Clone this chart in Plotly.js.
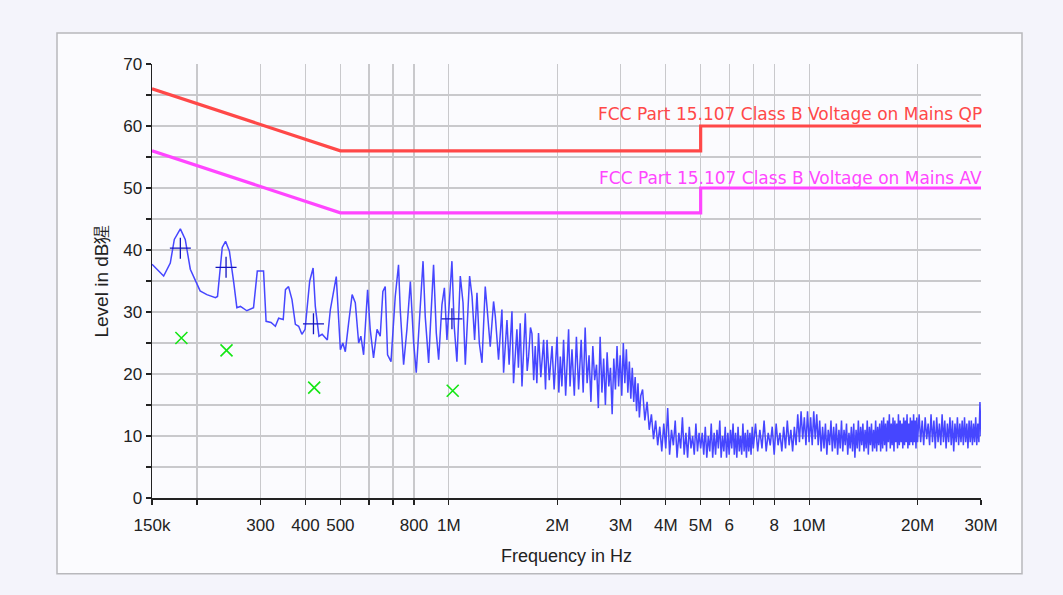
<!DOCTYPE html>
<html>
<head>
<meta charset="utf-8">
<script src="https://cdn.plot.ly/plotly-3.0.1.min.js"></script>
<style>
html,body{margin:0;padding:0;background:#f4f4fb;}
#chart{width:1063px;height:595px;}
</style>
</head>
<body>
<div id="chart"></div>
<script>
// ---- Data (frequency in MHz, level in dBµV) ----
const specLowFreq = [0.150,0.1616,0.1686,0.173,0.1798,0.1855,0.1916,0.1977,0.204,0.213,0.225,0.228,0.235,0.240,0.246,0.253,0.258,0.264,0.275,0.287,0.294,0.306,0.311,0.321,0.330,0.337,0.347,0.352,0.359,0.367,0.375,0.383,0.391,0.399,0.411,0.420,0.426,0.436,0.445,0.460];
const specLowLevel = [37.7,35.8,37.9,41.7,43.4,41.7,36.9,35.2,33.4,32.8,32.3,32.5,40.4,41.4,39.8,34.7,30.7,30.9,30.2,30.7,36.6,36.6,28.5,28.3,27.7,29.0,28.8,33.6,34.1,32.0,28.0,27.7,26.4,27.2,35.0,37.1,30.9,26.1,26.4,25.5];

const specMidFreq = [0.469,0.487,0.494,0.500,0.508,0.516,0.527,0.539,0.550,0.562,0.570,0.580,0.595,0.605,0.618,0.632,0.645,0.656,0.666,0.676,0.691,0.710,0.725,0.733,0.749,0.765,0.782,0.798,0.812,0.830,0.848,0.860,0.879,0.888,0.907,0.923,0.937,0.957,0.972,0.988,1.005,1.020,1.035,1.053,1.076,1.095,1.111,1.142,1.160,1.179,1.197,1.215,1.236,1.262,1.276,1.303,1.331,1.346,1.374,1.404,1.419,1.450,1.470,1.497,1.512,1.545,1.560,1.578,1.596,1.630,1.650,1.665,1.685,1.701,1.720,1.737,1.755,1.774,1.800,1.833,1.855,1.873,1.900,1.934,1.960,1.997,2.020,2.039,2.060,2.082,2.110,2.150,2.170,2.197,2.230,2.260,2.292];
const specMidLevel = [30.4,35.7,29.8,23.9,25.0,23.6,28.2,32.8,31.5,25.0,26.1,23.1,33.6,27.2,22.6,27.2,26.1,33.3,34.1,23.1,22.0,32.5,37.6,30.4,21.5,27.2,34.9,25.3,20.2,29.8,38.2,29.3,21.8,27.2,37.6,26.6,22.3,31.2,33.9,25.5,32.0,38.2,27.7,22.0,35.8,31.5,21.5,35.8,32.5,25.5,33.1,25.0,21.8,34.1,30.9,24.4,31.7,29.3,22.3,30.4,20.2,28.7,21.5,30.1,18.5,27.2,21.0,28.2,18.0,29.8,20.5,22.8,27.5,26.5,19.0,24.5,18.5,26.6,19.5,25.5,17.5,25.5,19.0,24.5,17.5,26.0,17.0,22.8,18.0,25.5,16.5,27.2,18.0,24.0,16.5,26.0,17.5];

const specBandFreq = [2.33,2.36,2.39,2.42,2.45,2.48,2.51,2.54,2.57,2.60,2.63,2.66,2.69,2.72,2.75,2.78,2.81,2.84,2.87,2.90,2.93,2.96,2.99,3.02,3.05,3.08,3.11,3.14,3.17,3.20,3.23,3.26,3.29,3.32,3.35,3.38,3.41,
3.45,3.50,3.55,3.60,3.65,3.70,3.75,3.80,3.85,3.90,3.95,4.00,4.05,4.10,4.15,4.20,4.25,4.30,4.35,4.40,4.45,4.50,4.55,4.60,4.65,4.70,4.75,4.80,4.85,4.90,4.95,5.00];
const specBandLevel = [25.5,17.0,27.5,18.5,23.0,15.5,24.5,19.0,21.5,14.5,26.0,17.0,22.5,15.0,23.5,18.0,21.0,13.5,22.5,17.5,24.5,18.0,23.0,16.5,25.0,18.5,24.0,17.0,22.0,16.0,21.0,15.5,19.5,14.0,18.5,13.0,16.5,
17.5,12.5,15.5,11.0,13.5,9.5,12.5,8.5,11.5,7.5,12.0,8.0,14.5,7.0,11.0,8.5,12.5,6.5,10.5,8.0,13.0,7.0,10.5,6.5,11.5,8.0,10.0,7.0,12.0,7.5,10.5,8.0];

const spec5to7Freq = [5.05,5.10,5.15,5.20,5.25,5.30,5.35,5.40,5.45,5.50,5.55,5.60,5.65,5.70,5.75,5.80,5.85,5.90,5.95,6.00,6.05,6.10,6.15,6.20,6.25,6.30,6.35,6.40,6.45,6.50,6.55,6.60,6.65,6.70,6.75,6.80,6.85,6.90,6.95,7.00];
const spec5to7Level = [10.5,7.0,11.5,6.5,10.0,7.5,12.0,6.5,10.5,7.0,11.0,8.0,12.5,6.5,10.0,7.5,11.5,6.5,10.5,7.0,11.0,8.0,12.0,7.0,10.5,6.5,11.5,7.5,10.0,7.0,12.0,7.5,10.5,6.5,11.0,7.5,10.5,7.0,11.5,8.0];

const spec7to10Freq = [7.1,7.2,7.3,7.4,7.5,7.6,7.7,7.8,7.9,8.0,8.1,8.2,8.3,8.4,8.5,8.6,8.7,8.8,8.9,9.0,9.1,9.2,9.3,9.4,9.5,9.6,9.7,9.8,9.9,10.0];
const spec7to10Level = [12.0,7.5,11.0,8.0,12.5,7.5,10.5,8.5,11.5,7.0,12.0,8.5,10.5,7.5,11.5,8.0,12.5,8.5,11.0,7.5,11.5,8.5,13.5,9.0,14.0,9.5,13.0,8.5,14.0,9.0];

const spec10to20Freq = [10.1,10.2,10.3,10.4,10.5,10.6,10.7,10.8,10.9,11.0,11.1,11.2,11.3,11.4,11.5,11.6,11.7,11.8,11.9,12.0,12.1,12.2,12.3,12.4,12.5,12.6,12.7,12.8,12.9,13.0,13.1,13.2,13.3,13.4,13.5,13.6,13.7,13.8,13.9,14.0,14.1,14.2,14.3,14.4,14.5,14.6,14.7,14.8,14.9,15.0,15.1,15.2,15.3,15.4,15.5,15.6,15.7,15.8,15.9,16.0,16.1,16.2,16.3,16.4,16.5,16.6,16.7,16.8,16.9,17.0,17.1,17.2,17.3,17.4,17.5,17.6,17.7,17.8,17.9,18.0,18.1,18.2,18.3,18.4,18.5,18.6,18.7,18.8,18.9,19.0,19.1,19.2,19.3,19.4,19.5,19.6,19.7,19.8,19.9,20.0];
const spec10to20Level = [13.0,8.5,14.0,9.5,13.5,8.5,12.5,7.5,11.5,8.0,12.0,7.0,11.0,8.5,12.5,7.5,11.5,8.0,12.0,7.0,11.0,8.0,12.5,7.5,11.0,8.5,12.0,7.0,10.5,8.0,11.5,7.5,12.0,6.5,11.0,8.0,12.5,7.5,11.5,8.5,12.0,7.5,11.0,8.0,12.5,7.0,11.5,8.5,12.0,7.5,11.0,8.0,12.5,7.5,11.5,8.5,12.0,7.5,12.5,8.0,13.0,8.5,12.0,7.5,12.5,9.0,13.5,8.0,12.0,8.5,13.0,7.5,12.5,9.0,12.0,8.0,13.5,8.5,12.5,9.0,12.0,8.0,13.0,8.5,12.5,9.0,13.5,8.0,12.0,8.5,13.0,9.0,12.5,8.5,13.5,9.0,12.5,8.0,13.0,9.0];

const spec20to30Freq = [20.2,20.4,20.6,20.8,21.0,21.2,21.4,21.6,21.8,22.0,22.2,22.4,22.6,22.8,23.0,23.2,23.4,23.6,23.8,24.0,24.2,24.4,24.6,24.8,25.0,25.2,25.4,25.6,25.8,26.0,26.2,26.4,26.6,26.8,27.0,27.2,27.4,27.6,27.8,28.0,28.2,28.4,28.6,28.8,29.0,29.2,29.4,29.6,29.8,30.0];
const spec20to30Level = [13.5,9.0,12.5,8.5,13.0,9.5,12.0,8.5,13.5,9.0,12.5,8.0,13.0,9.0,12.0,8.5,13.5,9.0,12.5,8.0,12.0,9.0,13.0,8.5,12.5,7.5,12.0,9.0,13.0,8.5,12.0,9.0,12.5,8.5,13.0,9.0,12.0,8.0,12.5,9.0,12.5,8.5,12.0,9.0,13.0,8.5,12.0,9.0,15.5,10.0];

const qpLimitFreq = [0.15, 0.5, 5, 5, 30];
const qpLimitLevel = [66, 56, 56, 60, 60];
const avLimitFreq = [0.15, 0.5, 5, 5, 30];
const avLimitLevel = [56, 46, 46, 50, 50];

const qpMarkFreq = [0.1798, 0.2408, 0.421, 1.020];
const qpMarkLevel = [40.3, 37.2, 28.1, 28.9];
const avMarkFreq = [0.1810, 0.2415, 0.423, 1.025];
const avMarkLevel = [25.8, 23.8, 17.8, 17.3];

const xTickVals = [0.15,0.2,0.3,0.4,0.5,0.6,0.7,0.8,1,2,3,4,5,6,7,8,10,20,30];
const xTickText = ['150k','','300','400','500','','','800','1M','2M','3M','4M','5M','6','','8','10M','20M','30M'];
const yTickVals = [0,5,10,15,20,25,30,35,40,45,50,55,60,65,70];
const yTickText = ['0','','10','','20','','30','','40','','50','','60','','70'];

const qpLabel = 'FCC Part 15.107 Class B Voltage on Mains QP';
const avLabel = 'FCC Part 15.107 Class B Voltage on Mains AV';

// ---- Build ----
const specFreq = specLowFreq.concat(specMidFreq, specBandFreq, spec5to7Freq, spec7to10Freq, spec10to20Freq, spec20to30Freq);
const specLevel = specLowLevel.concat(specMidLevel, specBandLevel, spec5to7Level, spec7to10Level, spec10to20Level, spec20to30Level);

const qpColor = 'rgb(255,72,72)';
const avColor = 'rgb(255,70,255)';

const traces = [
  {x: specFreq, y: specLevel, mode: 'lines', line: {color: 'rgb(70,70,255)', width: 1.5}, hoverinfo: 'skip'},
  {x: qpLimitFreq, y: qpLimitLevel, mode: 'lines', line: {color: qpColor, width: 3.2}},
  {x: avLimitFreq, y: avLimitLevel, mode: 'lines', line: {color: avColor, width: 3.2}},
  {x: qpMarkFreq, y: qpMarkLevel, mode: 'markers', marker: {symbol: 'cross-thin-open', size: 15, color: 'rgb(20,20,190)', line: {color: 'rgb(20,20,190)', width: 1.3}}},
  {x: avMarkFreq, y: avMarkLevel, mode: 'markers', marker: {symbol: 'x-thin-open', size: 12, color: 'rgb(20,230,20)', line: {color: 'rgb(20,230,20)', width: 1.6}}}
];

const L = 152, R = 981, T = 64, B = 498.3;
const pw = R - L, ph = B - T;
function px2paperX(p){ return (p - L) / pw; }
function py2paperY(p){ return (B - p) / ph; }

const tickFont = {family: 'Liberation Sans, Arial, sans-serif', size: 17, color: '#222'};
const titleFont = {family: 'Liberation Sans, Arial, sans-serif', size: 18, color: '#222'};
const yTitleFont = {family: 'Liberation Sans, Arial, sans-serif', size: 19, color: '#222'};

const layout = {
  width: 1063, height: 595,
  margin: {l: L, r: 1063 - R, t: T, b: 595 - B},
  paper_bgcolor: '#f4f4fb',
  plot_bgcolor: 'rgba(0,0,0,0)',
  showlegend: false,
  xaxis: {
    type: 'log',
    range: [Math.log10(0.15), Math.log10(30)],
    tickvals: xTickVals, ticktext: xTickText,
    ticks: 'outside', ticklen: 5, tickcolor: '#222', tickwidth: 1.2,
    ticklabelstandoff: 6,
    showgrid: true, gridcolor: '#c9c9cc', gridwidth: 1.2,
    showline: true, linecolor: '#222', linewidth: 1.5,
    zeroline: false,
    tickfont: tickFont,
    title: {text: 'Frequency in Hz', font: titleFont, standoff: 15},
    automargin: false
  },
  yaxis: {
    range: [0, 70],
    tickvals: yTickVals, ticktext: yTickText,
    ticks: 'outside', ticklen: 5, tickcolor: '#222', tickwidth: 1.2,
    ticklabelstandoff: 0,
    showgrid: true, gridcolor: '#c9c9cc', gridwidth: 1.2,
    showline: true, linecolor: '#222', linewidth: 1.5,
    zeroline: false,
    tickfont: tickFont,
    title: {text: 'Level in dB猩', font: yTitleFont, standoff: 9},
    automargin: false
  },
  shapes: [
    {type: 'rect', xref: 'paper', yref: 'paper', layer: 'below',
     x0: px2paperX(57), x1: px2paperX(1022), y0: py2paperY(574), y1: py2paperY(33),
     fillcolor: '#fbfbfe', line: {color: '#b8b8bc', width: 1.5}}
  ],
  annotations: [
    {xref: 'paper', x: px2paperX(984), xanchor: 'right', yref: 'y', y: 61.9, yanchor: 'middle',
     text: qpLabel, showarrow: false, font: {family: 'DejaVu Sans, sans-serif', size: 17, color: qpColor}},
    {xref: 'paper', x: px2paperX(984), xanchor: 'right', yref: 'y', y: 51.6, yanchor: 'middle',
     text: avLabel, showarrow: false, font: {family: 'DejaVu Sans, sans-serif', size: 17, color: avColor}}
  ]
};

Plotly.newPlot('chart', traces, layout, {displayModeBar: false, staticPlot: true});
</script>
</body>
</html>
